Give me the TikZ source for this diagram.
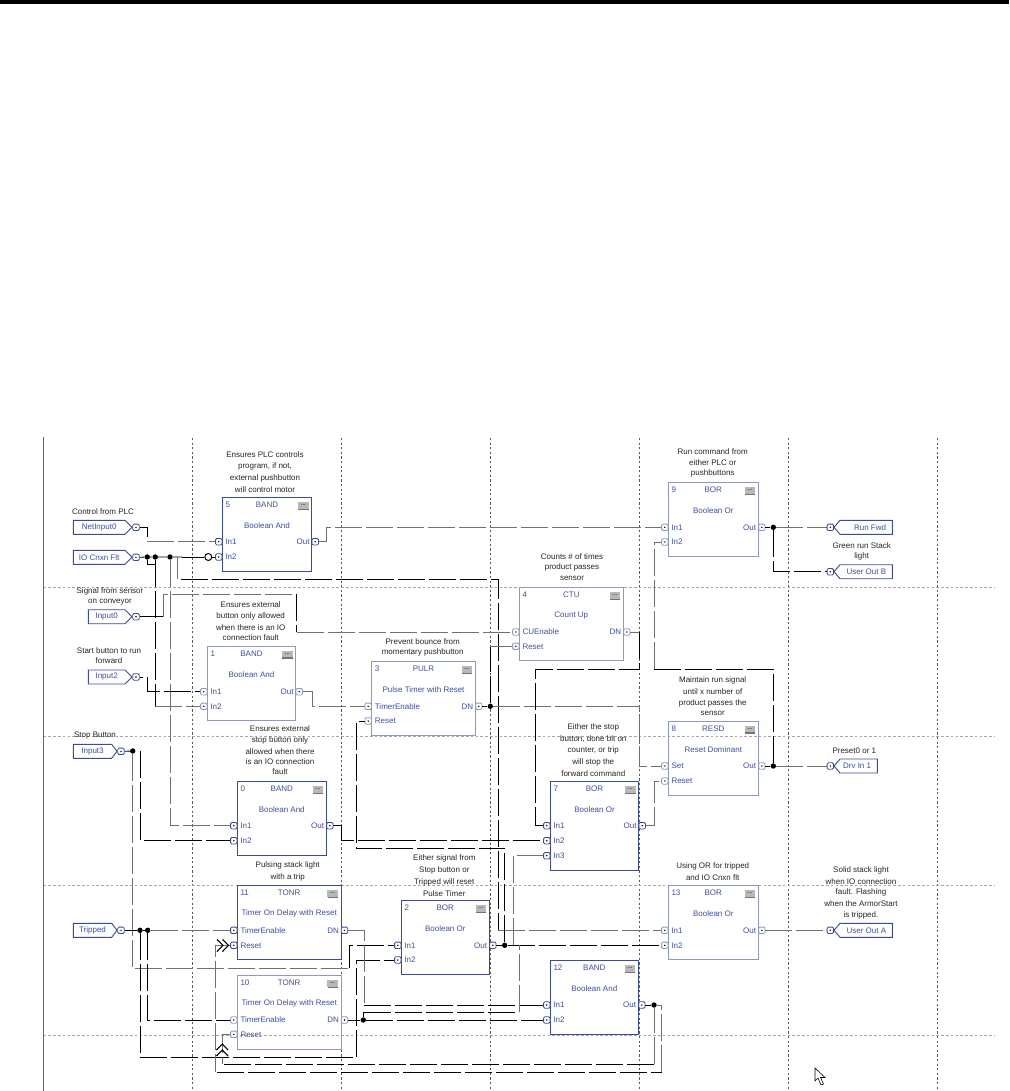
\documentclass[tikz,border=0pt]{standalone}
\usepackage{fontspec}
\setmainfont{Liberation Sans}
\definecolor{bd}{HTML}{3A4A9E}
\definecolor{bl}{HTML}{8C98CC}
\definecolor{tb}{HTML}{3F4FA5}
\definecolor{wg}{HTML}{707070}
\tikzset{
 gw/.style={draw=wg,line width=1pt,dash pattern=on 27pt off 4pt},
 bw/.style={draw=black,line width=1pt,dash pattern=on 27pt off 4pt},
 sw/.style={draw=black,line width=.9pt},
 jn/.style={circle,fill=black,inner sep=0pt,minimum size=5.4pt},
 oc/.style={circle,draw=black,line width=1pt,fill=white,inner sep=0pt,minimum size=7pt},
 pinb/.style={rectangle,rounded corners=1.2pt,line width=.8pt,fill=white,inner sep=0pt,minimum size=6.4pt},
 note/.style={inner sep=0pt,font=\fontsize{8}{10}\selectfont,text=black!85},
 btxt/.style={inner sep=0pt,font=\fontsize{8}{10}\selectfont,text=tb},
 vgrid/.style={draw=black!65,line width=.7pt,dash pattern=on 2.2pt off 2.4pt},
 hgrid/.style={draw=black!35,line width=.7pt,dash pattern=on 2.6pt off 2.2pt},
 btn/.style={fill=black!28,inner sep=0pt,minimum width=10.5pt,minimum height=6.5pt,font=\fontsize{6}{6}\selectfont\bfseries,text=black!70},
}
\newcommand\fblock[9]{%
 \node[draw=#9,line width=.9pt,inner sep=0pt,minimum width={(#4-#2)*1pt},minimum height={(#5-#3)*1pt}] (#1) at ({(#2+#4)/2},{(#3+#5)/2}) {};
 \node[btxt,anchor=west] (#1-id) at (#2+3,#3+7.5) {#6};
 \node[btxt] (#1-ty) at ({(#2+#4)/2},#3+7.5) {#7};
 \node[btxt] (#1-ti) at ({(#2+#4)/2},#3+28.3) {#8};
 \fill[black!55] (#4-13.5,#3+5.5) rectangle (#4-3,#3+12.5);
 \node[btn,anchor=north west] (#1-bt) at (#4-13.8,#3+4.7) {\raisebox{1pt}{...}};
}
\newcommand\ipin[5]{% name,left,y,label,colour
 \node[pinb,draw=#5] (#1) at (#2-3.5,#3) {};
 \fill[black] (#1.center) circle (.8pt);
 \node[btxt,anchor=west] (#1-l) at (#2+3,#3) {#4};
}
\newcommand\opin[5]{% name,right,y,label,colour
 \node[pinb,draw=#5] (#1) at (#2+3.5,#3) {};
 \fill[black] (#1.center) circle (.8pt);
 \node[btxt,anchor=east] (#1-l) at (#2-2,#3) {#4};
}
% tag with pin on its right: name,pin name,L,shoulder,y,label,pinx
\newcommand\intag[7]{%
 \draw[bd,line width=.9pt] (#3,#5-7) -- (#4,#5-7) -- (#7-4,#5) -- (#4,#5+7) -- (#3,#5+7) -- cycle;
 \node[btxt] (#1) at ({(#3+#4)/2},#5) {#6};
 \node[pinb,draw=bd] (#2) at (#7,#5) {};
 \fill[black] (#2.center) circle (.8pt);
}
% tag with pin on its left: name,pin name,R,y,label
\newcommand\outtag[5]{%
 \draw[bd,line width=.9pt] (840,#4-7) -- (#3,#4-7) -- (#3,#4+7) -- (840,#4+7) -- (834,#4) -- cycle;
 \node[btxt,anchor=east] (#1) at (#3-6,#4) {#5};
 \node[pinb,draw=bd] (#2) at (830.3,#4) {};
 \fill[black] (#2.center) circle (.8pt);
}
\begin{document}
\begin{tikzpicture}[x=1pt,y=-1pt]
\useasboundingbox (0,0) rectangle (1009,1091);
\fill[white] (0,0) rectangle (1009,1091);
\fill[black] (0,0) rectangle (1009,4);
% grid
\draw[black!60,line width=1pt] (43.5,437) -- (43.5,1091);
\foreach \gx in {192.3,341.7,490.4,639.5,788.3,937.3}{\draw[vgrid] (\gx,438) -- (\gx,1091);}
\foreach \gy in {587.7,736.6,885.3,1035}{\draw[hgrid] (43.5,\gy) -- (995,\gy);}

% blocks
\fblock{b5}{222.3}{497.3}{311.7}{571.7}{5}{BAND}{Boolean And}{bd}
\fblock{b1}{207.3}{646}{295.7}{720.3}{1}{BAND}{Boolean And}{bl}
\fblock{b0}{237.3}{781.3}{326.3}{855.3}{0}{BAND}{Boolean And}{bd}
\fblock{b11}{237.3}{885.3}{341}{959.3}{11}{TONR}{Timer On Delay with Reset}{bd}
\fblock{b10}{237.3}{975.3}{341}{1049.3}{10}{TONR}{Timer On Delay with Reset}{bl}
\fblock{b3}{371.7}{661.3}{475.3}{735.3}{3}{PULR}{Pulse Timer with Reset}{bl}
\fblock{b4}{519.3}{587.3}{623.3}{660.3}{4}{CTU}{Count Up}{bl}
\fblock{b7}{550.3}{781.3}{638.7}{870}{7}{BOR}{Boolean Or}{bd}
\fblock{b2}{401.3}{900.3}{489.3}{974.3}{2}{BOR}{Boolean Or}{bd}
\fblock{b12}{550.3}{960.3}{638.3}{1034.3}{12}{BAND}{Boolean And}{bd}
\fblock{b13}{668.3}{885.3}{758.3}{959.3}{13}{BOR}{Boolean Or}{bl}
\fblock{b9}{668.3}{482.3}{758.3}{556.3}{9}{BOR}{Boolean Or}{bl}
\fblock{b8}{668.3}{721}{758.3}{795}{8}{RESD}{Reset Dominant}{bl}

% pins
\ipin{b5in1}{222.3}{541.7}{In1}{bd}\ipin{b5in2}{222.3}{557}{In2}{bd}\opin{b5out}{311.7}{541.7}{Out}{bd}
\ipin{b1in1}{207.3}{691.7}{In1}{bl}\ipin{b1in2}{207.3}{706.3}{In2}{bl}\opin{b1out}{295.7}{691.7}{Out}{bl}
\ipin{b0in1}{237.3}{825.7}{In1}{bd}\ipin{b0in2}{237.3}{840.7}{In2}{bd}\opin{b0out}{326.3}{825.7}{Out}{bd}
\ipin{b11te}{237.3}{930.3}{TimerEnable}{bd}\ipin{b11rs}{237.3}{945.3}{Reset}{bd}\opin{b11dn}{341}{930.3}{DN}{bd}
\ipin{b10te}{237.3}{1020}{TimerEnable}{bl}\ipin{b10rs}{237.3}{1034.3}{Reset}{bl}\opin{b10dn}{341}{1020}{DN}{bl}
\ipin{b3te}{371.7}{706.3}{TimerEnable}{bl}\ipin{b3rs}{371.7}{721}{Reset}{bl}\opin{b3dn}{475.3}{706.3}{DN}{bl}
\ipin{b4cu}{519.3}{632}{CUEnable}{bl}\ipin{b4rs}{519.3}{646.3}{Reset}{bl}\opin{b4dn}{623.3}{632}{DN}{bl}
\ipin{b7in1}{550.3}{825.7}{In1}{bd}\ipin{b7in2}{550.3}{840.7}{In2}{bd}\ipin{b7in3}{550.3}{855.7}{In3}{bd}\opin{b7out}{638.7}{825.7}{Out}{bd}
\ipin{b2in1}{401.3}{945.3}{In1}{bd}\ipin{b2in2}{401.3}{960}{In2}{bd}\opin{b2out}{489.3}{945.3}{Out}{bd}
\ipin{b12in1}{550.3}{1005}{In1}{bd}\ipin{b12in2}{550.3}{1020}{In2}{bd}\opin{b12out}{638.3}{1005}{Out}{bd}
\ipin{b13in1}{668.3}{930.3}{In1}{bl}\ipin{b13in2}{668.3}{945.3}{In2}{bl}\opin{b13out}{758.3}{930.3}{Out}{bl}
\ipin{b9in1}{668.3}{527.3}{In1}{bl}\ipin{b9in2}{668.3}{542}{In2}{bl}\opin{b9out}{758.3}{527.3}{Out}{bl}
\ipin{b8set}{668.3}{766}{Set}{bl}\ipin{b8rs}{668.3}{781}{Reset}{bl}\opin{b8out}{758.3}{766}{Out}{bl}

% tags
\intag{tnet}{pnet}{73.3}{125}{527.3}{NetInput0}{136}
\intag{tio}{pio}{73.3}{125}{557.3}{IO Cnxn Flt}{136}
\intag{ti0}{pi0}{88.3}{125}{616.7}{Input0}{136}
\intag{ti2}{pi2}{88.3}{125}{677}{Input2}{136}
\intag{ti3}{pi3}{73.3}{111.7}{751.3}{Input3}{121}
\intag{ttr}{ptr}{73.3}{111.7}{930.3}{Tripped}{121}
\outtag{trun}{prun}{892.3}{527.3}{Run Fwd}
\outtag{tuob}{puob}{892.3}{571.7}{User Out B}
\outtag{tdrv}{pdrv}{877.3}{766}{Drv In 1}
\outtag{tuoa}{puoa}{892.3}{930.3}{User Out A}

% junctions
\node[jn] (j147) at (147.3,557) {};
\node[jn] (j155) at (155.3,557) {};
\node[jn] (j170) at (170,557) {};
\node[oc] (oc1) at (208.3,557) {};
\node[jn] (j133) at (132.7,751) {};
\node[jn] (j490) at (490.3,706.3) {};
\node[jn] (j505) at (504.7,945.3) {};
\node[jn] (j773a) at (773.3,527.3) {};
\node[jn] (j773b) at (773.3,766) {};
\node[jn] (j140) at (140,930.3) {};
\node[jn] (j148) at (147.7,930.3) {};
\node[jn] (j363) at (363.3,1020) {};
\node[jn] (j654) at (654,1005) {};

% wires
\draw[sw] (pnet.east) -- (147.3,527.3) -- (147.3,537);
\draw[gw] (147.3,541.7) -- (b5in1.west);
\draw[sw] (pio.east) -- (j147) -- (j155) -- (j170) -- ++(12,0);
\draw[bw] (182,557) -- (oc1.west);
\draw[sw] (oc1.east) -- (b5in2.west);
\draw[sw] (j147) |- (155.3,564.3);
\draw[bw] (j155) -- (155.3,706.3);
\draw[gw] (155.3,706.3) -- (b1in2.west);
\draw[gw] (j170) |- (b0in1.west);
\draw[gw] (177.7,557) -- (177.7,579);
\draw[bw] (181,579) -- (498.3,579) -- (498.3,930.3);
\draw[gw] (498.3,930.3) -- (b13in1.west);
\draw[sw] (pi0.east) -- (163.3,616.7);
\draw[gw] (163.3,616.7) -- (163.3,594.3) -- (296.7,594.3);
\draw[bw] (296.7,594.3) -- (296.7,632);
\draw[gw] (296.7,632) -- (b4cu.west);
\draw[sw] (pi2.east) -- (143,677);
\draw[bw] (147.3,677) |- (b1in1.west);
\draw[gw] (b1out.east) -- (312.7,691.7) |- (b3te.west);
\draw[sw] (pi3.east) -- (j133);
\draw[gw] (j133) -- (132.7,968.3) -- (349.3,968.3);
\draw[bw] (349.3,968.3) |- (b2in1.west);
\draw[bw] (140.7,751) |- (b0in2.west);
\draw[sw] (b0out.east) -- (341.7,825.7);
\draw[bw] (341.7,825.7) |- (b7in2.west);
\draw[sw] (b2out.east) -- (j505);
\draw[bw] (j505) -- (b13in2.west);
\draw[bw] (j505) -- (504.7,848.3) -- (356.3,848.3) |- (b3rs.west);
\draw[gw] (513.3,945.3) |- (b7in3.west);
\draw[gw] (b7out.east) -- (654.5,825.7) |- (b8rs.west);
\draw[sw] (b3dn.east) -- (j490);
\draw[gw] (j490) -- (639.5,706.3) |- (b8set.west);
\draw[bw] (j490) -- (490.3,646.3);
\draw[gw] (490.3,646.3) -- (b4rs.west);
\draw[gw] (b4dn.east) -- (639.5,632);
\draw[bw] (639.5,632) -- (639.5,669) -- (535,669) |- (b7in1.west);
\draw[gw] (b5out.east) -- (326.7,541.7) |- (b9in1.west);
\draw[sw] (b9out.east) -- (j773a);
\draw[gw] (j773a) -- (prun.west);
\draw[bw] (j773a) |- (puob.west);
\draw[sw] (b8out.east) -- (j773b);
\draw[gw] (j773b) -- (pdrv.west);
\draw[bw] (j773b) -- (773.3,669.3) -- (654.3,669.3);
\draw[gw] (654.3,669.3) |- (b9in2.west);
\draw[gw] (b13out.east) -- (puoa.west);
\draw[sw] (ptr.east) -- (j140) -- (j148);
\draw[gw] (j148) -- (b11te.west);
\draw[bw] (j140) -- (140,1057.3) -- (356.7,1057.3) |- (b2in2.west);
\draw[bw] (j148) |- (b10te.west);
\draw[gw] (b11rs.west) -- (215.3,945.3) -- (215.3,1072.3);
\draw[bw] (217,1072.3) -- (661.7,1072.3);
\draw[gw] (661.7,1072.3) |- (j654);
\draw[gw] (b10rs.west) -- (222.3,1034.3) -- (222.3,1064.3);
\draw[bw] (224,1064.3) -- (654,1064.3);
\draw[gw] (654,1064.3) -- (j654);
\draw[sw] (b12out.east) -- (j654);
\draw[gw] (b11dn.east) -- (364.3,930.3) -- (364.3,1005);
\draw[bw] (364.3,1005) -- (b12in1.west);
\draw[sw] (b10dn.east) -- (j363);
\draw[bw] (j363) -- (b12in2.west);
\draw[sw] (j363) -- (363.3,1012.3);
\draw[bw] (364.3,1012.3) -- (519.3,1012.3);
\draw[gw] (519.3,1012.3) -- (519.3,945.3);

% chevrons
\draw[black,line width=1.1pt] (217,939.5) -- (223,945.3) -- (217,951.5);
\draw[black,line width=1.1pt] (222.5,939.5) -- (228.5,945.3) -- (222.5,951.5);
\draw[black,line width=1.1pt] (216.5,1050) -- (222.3,1044) -- (228,1050);
\draw[black,line width=1.1pt] (216.5,1056) -- (222.3,1050) -- (228,1056);

% notes
\node[note,align=center] (n1) at (265,472) {\shortstack[c]{Ensures PLC controls\\[1.5pt]program, if not,\\[1.5pt]external pushbutton\\[1.5pt]will control motor}};
\node[note] (n2) at (103,511.7) {Control from PLC};
\node[note,align=center] (n3) at (110,596.3) {\shortstack[c]{Signal from sensor\\[1.5pt]on conveyor}};
\node[note,align=center] (n4) at (250.7,621.3) {\shortstack[c]{Ensures external\\[1.5pt]button only allowed\\[1.5pt]when there is an IO\\[1.5pt]connection fault}};
\node[note,align=center] (n5) at (109,655.5) {\shortstack[c]{Start button to run\\[1.5pt]forward}};
\node[note] (n6) at (95,735.7) {Stop Button};
\node[note,align=center] (n7) at (280,750.5) {\shortstack[c]{Ensures external\\[1.5pt]stop button only\\[1.5pt]allowed when there\\[1.5pt]is an IO connection\\[1.5pt]fault}};
\node[note,align=center] (n8) at (287.7,871.7) {\shortstack[c]{Pulsing stack light\\[1.5pt]with a trip}};
\node[note,align=center] (n9) at (422.7,647.5) {\shortstack[c]{Prevent bounce from\\[1.5pt]momentary pushbutton}};
\node[note,align=center] (n10) at (572,567) {\shortstack[c]{Counts \# of times\\[1.5pt]product passes\\[1.5pt]sensor}};
\node[note,align=center] (n11) at (593.3,750) {\shortstack[c]{Either the stop\\[1.5pt]button, done bit on\\[1.5pt]counter, or trip\\[1.5pt]will stop the\\[1.5pt]forward command}};
\node[note,align=center] (n12) at (444.3,875.5) {\shortstack[c]{Either signal from\\[1.5pt]Stop button or\\[1.5pt]Tripped will reset\\[1.5pt]Pulse Timer}};
\node[note,align=center] (n13) at (712.7,463) {\shortstack[c]{Run command from\\[1.5pt]either PLC or\\[1.5pt]pushbuttons}};
\node[note,align=center] (n14) at (861.7,551.5) {\shortstack[c]{Green run Stack\\[1.5pt]light}};
\node[note,align=center] (n15) at (712.7,696.5) {\shortstack[c]{Maintain run signal\\[1.5pt]until x number of\\[1.5pt]product passes the\\[1.5pt]sensor}};
\node[note] (n16) at (854.3,751) {Preset0 or 1};
\node[note,align=center] (n17) at (712.7,871.3) {\shortstack[c]{Using OR for tripped\\[1.5pt]and IO Cnxn flt}};
\node[note,align=center] (n18) at (861,892.7) {\shortstack[c]{Solid stack light\\[1.5pt]when IO connection\\[1.5pt]fault. Flashing\\[1.5pt]when the ArmorStart\\[1.5pt]is tripped.}};

% cursor
\draw[black,fill=white,line width=.6pt] (815,1068) -- (815,1081) -- (818,1078) -- (821,1085) -- (823.5,1084) -- (820.5,1077.5) -- (825,1077.5) -- cycle;
\end{tikzpicture}
\end{document}
